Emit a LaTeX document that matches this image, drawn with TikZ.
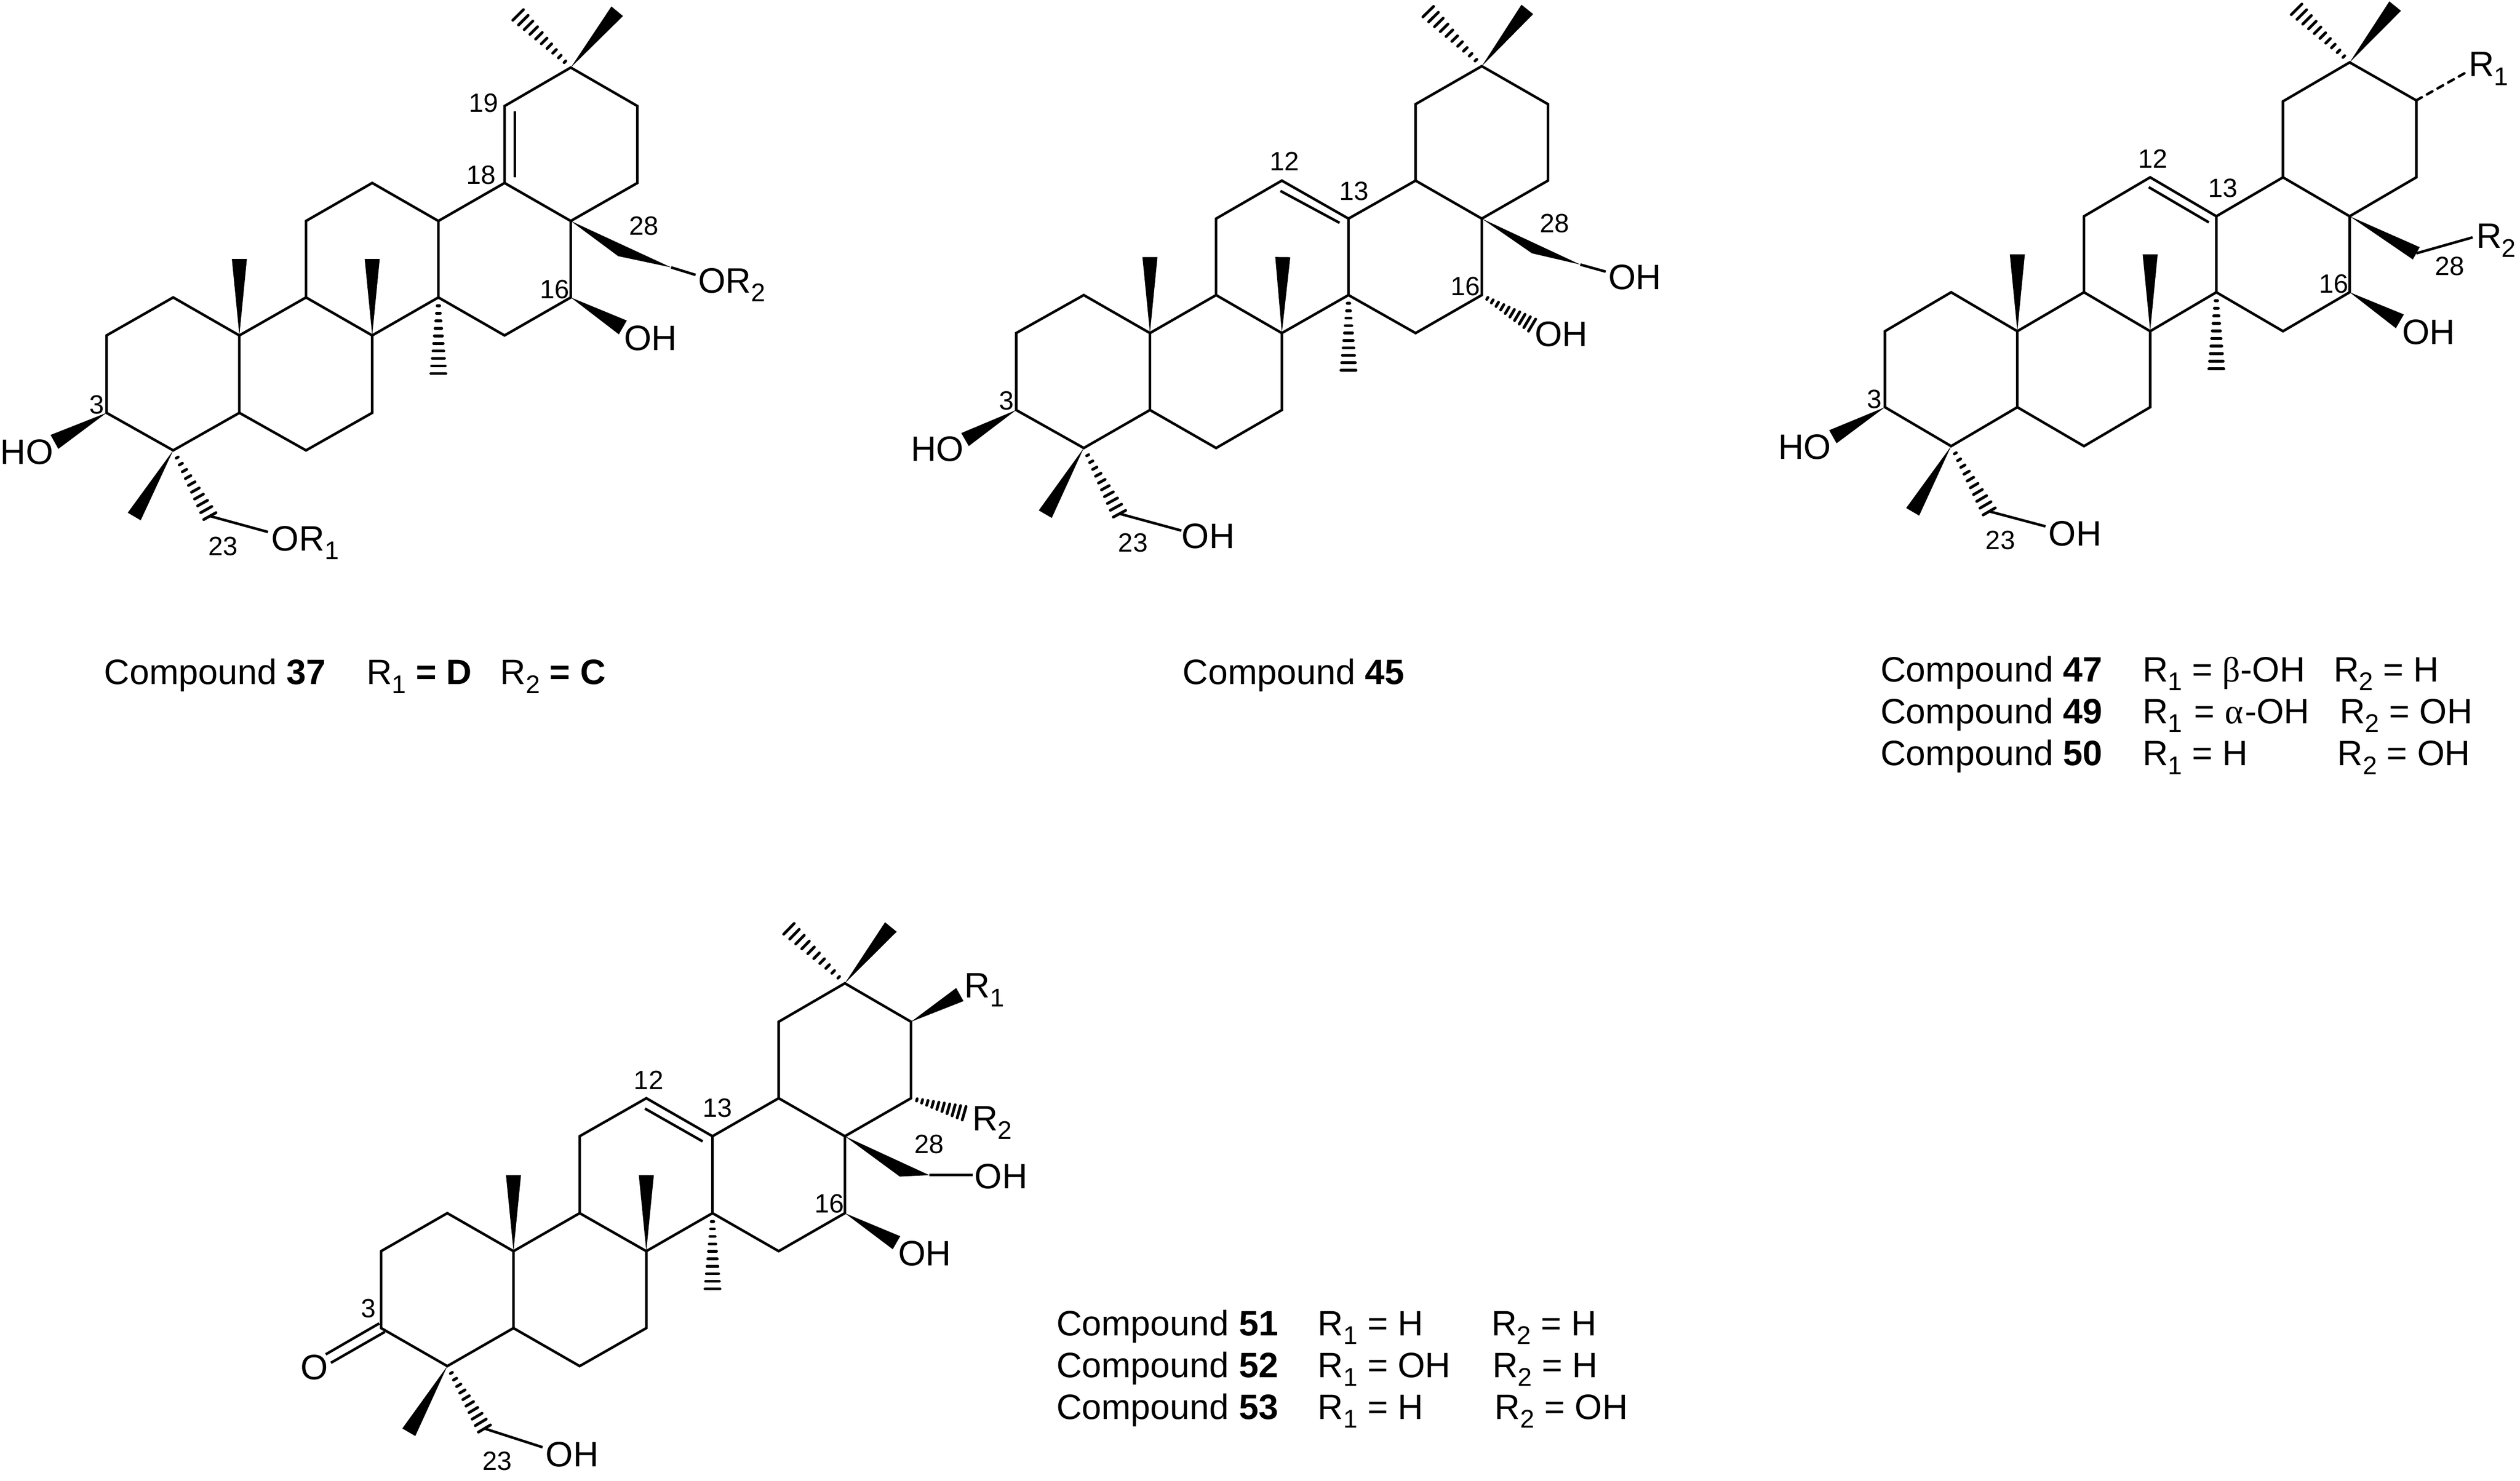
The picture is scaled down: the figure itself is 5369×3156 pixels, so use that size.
\documentclass[tikz,border=0pt]{standalone}
\usepackage{fontspec}
\setmainfont{Liberation Sans}
\newfontfamily\greekfont{Liberation Serif}
\usetikzlibrary{calc}
\newcommand{\atomfont}{\fontsize{21.4}{25}\selectfont}
\newcommand{\numfont}{\fontsize{16}{18}\selectfont}
\newcommand{\rsub}[1]{\raisebox{-0.25em}{\fontsize{15.5}{18}\selectfont #1}}
\tikzset{
  bondline/.style={line width=1.55pt},
  hashline/.style={line width=1.7pt, line cap=round},
  atomlabel/.style={anchor=base west, inner sep=0pt, font=\atomfont},
  numlabel/.style={inner sep=0pt, font=\numfont}
}
% solid wedge and hashed wedge, narrow end first, half width in pixels
\newcommand{\wedgebond}[3]{\fill (#1) -- ($(#2)!#3*0.01cm!90:(#1)$) -- ($(#2)!#3*0.01cm!-90:(#1)$) -- cycle;}
\newcommand{\hashbond}[3]{\foreach \hpos in {0.11,0.209,...,1.01} {
  \pgfmathsetmacro{\hashw}{(\hpos*#3+1)*0.01}
  \draw[hashline] ($(#1)!\hpos!(#2)!\hashw cm!90:(#1)$) -- ($(#1)!\hpos!(#2)!\hashw cm!-90:(#1)$);}}
% the five rings and the substituents all four molecules share
\newcommand{\skeleton}[1]{
  \draw[bondline] (#1a1) -- (#1a2) -- (#1a3) -- (#1a4) -- (#1a5) -- (#1a6) -- cycle;
  \draw[bondline] (#1a3) -- (#1b1) -- (#1b2) -- (#1b3) -- (#1b4) -- (#1a4);
  \draw[bondline] (#1b1) -- (#1c1) -- (#1c2) -- (#1c3) -- (#1c4) -- (#1b2);
  \draw[bondline] (#1c3) -- (#1d1) -- (#1d2) -- (#1d3) -- (#1d4) -- (#1c4);
  \draw[bondline] (#1d1) -- (#1e1) -- (#1e2) -- (#1e3) -- (#1e4) -- (#1d2);
  \draw[bondline] (#1ia) -- (#1ib);
  \wedgebond{#1a3}{#1t10}{16}
  \wedgebond{#1b2}{#1t8}{16}
  \hashbond{#1c4}{#1t14}{15}
  \wedgebond{#1a5}{#1me4}{16}
  \hashbond{#1a5}{#1c23}{14}
  \draw[bondline] (#1c23) -- (#1o23);
  \hashbond{#1e2}{#1ha20}{15}
  \wedgebond{#1e2}{#1me20}{16}
}
\begin{document}
\begin{tikzpicture}[x=0.01cm,y=-0.01cm]
\useasboundingbox (0,0) rectangle (5369,3156);

% Compound 37
\foreach \atom/\px/\py in {a1/227/715,a2/369/634,a3/510/715,a4/510/880,a5/369/960,a6/227/880,
  b1/652/634,b2/793/715,b3/793/880,b4/652/960,c1/652/471,c2/793/390,c3/934/471,c4/934/634,
  d1/1075/390,d2/1216/471,d3/1216/634,d4/1075/715,e1/1075/226,e2/1216/144,e3/1358/226,e4/1358/390,
  t10/510/552,t8/793/552,t14/934/796,me4/286/1101,c23/447/1100,o23/571/1134,ha20/1104/32,me20/1315/24,
  ia/1097/237,ib/1097/378,oh3/116/942,oh16/1327/698,c28/1317/546,x28/1430/570,o28/1482/586}
  \coordinate (m37\atom) at (\px,\py);
\skeleton{m37}
\wedgebond{m37a6}{m37oh3}{17}
\wedgebond{m37d3}{m37oh16}{17}
\fill (m37d2) -- (m37x28) -- (m37c28) -- cycle;
\draw[bondline] (m37x28) -- (m37o28);
\node[numlabel] (m37n19) at (1030,220) {19};
\node[numlabel] (m37n18) at (1025,373) {18};
\node[numlabel] (m37n28) at (1372,481) {28};
\node[numlabel] (m37n16) at (1182,617) {16};
\node[numlabel] (m37n3) at (206,863) {3};
\node[numlabel] (m37n23) at (475,1164) {23};
\node[atomlabel] (m37lr2) at (1487,624) {OR\rsub{2}};
\node[atomlabel] (m37loh) at (1329,747) {OH};
\node[atomlabel] (m37lho) at (0,990) {HO};
\node[atomlabel] (m37lr1) at (578,1174) {OR\rsub{1}};
\node[atomlabel] (cap37) at (221,1459) {Compound \textbf{37}};
\node[atomlabel] (cap37a) at (780,1459) {R\rsub{1} \textbf{= D}};
\node[atomlabel] (cap37b) at (1065,1459) {R\rsub{2} \textbf{= C}};

% Compound 45
\foreach \atom/\px/\py in {a1/2165/710,a2/2309/629,a3/2450/710,a4/2450/874,a5/2309/955,a6/2165/874,
  b1/2591/629,b2/2731/710,b3/2731/874,b4/2591/955,c1/2591/466,c2/2731/385,c3/2873/466,c4/2873/629,
  d1/3016/385,d2/3157/466,d3/3157/629,d4/3016/710,e1/3016/222,e2/3157/141,e3/3298/222,e4/3298/385,
  t10/2450/548,t8/2733/548,t14/2873/789,me4/2227/1096,c23/2385/1095,o23/2517/1131,ha20/3043/25,me20/3254/20,
  ia/2728/407,ib/2854/475,oh3/2056/937,oh16/3264/693,c28/3264/540,x28/3367/564,o28/3421/579}
  \coordinate (m45\atom) at (\px,\py);
\skeleton{m45}
\wedgebond{m45a6}{m45oh3}{16}
\hashbond{m45d3}{m45oh16}{14}
\fill (m45d2) -- (m45x28) -- (m45c28) -- cycle;
\draw[bondline] (m45x28) -- (m45o28);
\node[numlabel] (m45n12) at (2737,344) {12};
\node[numlabel] (m45n13) at (2885,407) {13};
\node[numlabel] (m45n28) at (3312,476) {28};
\node[numlabel] (m45n16) at (3122,610) {16};
\node[numlabel] (m45n3) at (2144,854) {3};
\node[numlabel] (m45n23) at (2414,1157) {23};
\node[atomlabel] (m45loh28) at (3426,617) {OH};
\node[atomlabel] (m45loh16) at (3269,738) {OH};
\node[atomlabel] (m45lho) at (1940,983) {HO};
\node[atomlabel] (m45loh23) at (2517,1169) {OH};
\node[atomlabel] (cap45) at (2519,1459) {Compound \textbf{45}};

% Compounds 47, 49, 50
\foreach \atom/\px/\py in {a1/4016/706,a2/4157/623,a3/4298/706,a4/4298/868,a5/4157/951,a6/4016/868,
  b1/4440/623,b2/4581/706,b3/4581/868,b4/4440/951,c1/4440/461,c2/4581/378,c3/4722/461,c4/4722/623,
  d1/4864/378,d2/5006/461,d3/5006/623,d4/4864/706,e1/4864/216,e2/5006/133,e3/5148/214,e4/5148/378,
  t10/4298/542,t8/4581/542,t14/4722/786,me4/4075/1091,c23/4238/1090,o23/4358/1122,ha20/4893/20,me20/5103/13,
  ia/4578/399,ib/4706/474,oh3/3905/931,oh16/5113/685,c28/5148/540,r228/5268/506,r147/5251/156}
  \coordinate (m47\atom) at (\px,\py);
\skeleton{m47}
\wedgebond{m47a6}{m47oh3}{16}
\wedgebond{m47d3}{m47oh16}{17}
\wedgebond{m47d2}{m47c28}{15}
\draw[bondline] (m47c28) -- (m47r228);
\draw[bondline, line cap=round, dash pattern=on 3.8pt off 3.6pt] (m47e3) -- (m47r147);
\node[numlabel] (m47n12) at (4587,338) {12};
\node[numlabel] (m47n13) at (4736,401) {13};
\node[numlabel] (m47n28) at (5219,567) {28};
\node[numlabel] (m47n16) at (4972,605) {16};
\node[numlabel] (m47n3) at (3993,851) {3};
\node[numlabel] (m47n23) at (4262,1152) {23};
\node[atomlabel] (m47lr1) at (5259,163) {R\rsub{1}};
\node[atomlabel] (m47lr2) at (5275,529) {R\rsub{2}};
\node[atomlabel] (m47loh16) at (5117,734) {OH};
\node[atomlabel] (m47lho) at (3788,979) {HO};
\node[atomlabel] (m47loh23) at (4364,1163) {OH};
\node[atomlabel] (cap47) at (4006,1453) {Compound \textbf{47}};
\node[atomlabel] (cap47a) at (4564,1453) {R\rsub{1} = {\greekfont β}-OH};
\node[atomlabel] (cap47b) at (4971,1453) {R\rsub{2} = H};
\node[atomlabel] (cap49) at (4006,1542) {Compound \textbf{49}};
\node[atomlabel] (cap49a) at (4564,1542) {R\rsub{1}\hspace{1.3pt} = {\greekfont α}\hspace{1pt}-OH};
\node[atomlabel] (cap49b) at (4984,1542) {R\rsub{2} = OH};
\node[atomlabel] (cap50) at (4006,1632) {Compound \textbf{50}};
\node[atomlabel] (cap50a) at (4564,1632) {R\rsub{1} = H};
\node[atomlabel] (cap50b) at (4979,1632) {R\rsub{2} = OH};

% Compounds 51, 52, 53
\foreach \atom/\px/\py in {a1/812/2667,a2/953/2586,a3/1094/2667,a4/1094/2831,a5/953/2912,a6/812/2831,
  b1/1235/2586,b2/1377/2667,b3/1377/2831,b4/1235/2912,c1/1235/2422,c2/1377/2341,c3/1518/2422,c4/1518/2586,
  d1/1659/2341,d2/1800/2422,d3/1800/2586,d4/1659/2667,e1/1659/2178,e2/1800/2096,e3/1941/2178,e4/1941/2341,
  t10/1094/2505,t8/1377/2505,t14/1518/2747,me4/871/3053,c23/1032/3045,o23/1156/3085,ha20/1681/1980,me20/1898/1976,
  ia/1374/2363,ib/1497/2433,oa/808/2821,ob/694/2887,oc/820/2839,od/705/2905,
  oh16/1910/2649,c28/1917/2508,x28/1980/2505,o28/2072/2505,r1/2045/2120,r2/2054/2373}
  \coordinate (m51\atom) at (\px,\py);
\skeleton{m51}
\draw[bondline] (m51oa) -- (m51ob);
\draw[bondline] (m51oc) -- (m51od);
\wedgebond{m51d3}{m51oh16}{16}
\fill (m51d2) -- (m51x28) -- (m51c28) -- cycle;
\draw[bondline] (m51x28) -- (m51o28);
\wedgebond{m51e3}{m51r1}{16}
\hashbond{m51e4}{m51r2}{14}
\node[numlabel] (m51n12) at (1382,2302) {12};
\node[numlabel] (m51n13) at (1529,2362) {13};
\node[numlabel] (m51n28) at (1980,2439) {28};
\node[numlabel] (m51n16) at (1767,2566) {16};
\node[numlabel] (m51n3) at (785,2789) {3};
\node[numlabel] (m51n23) at (1059,3114) {23};
\node[atomlabel] (m51lr1) at (2054,2127) {R\rsub{1}};
\node[atomlabel] (m51lr2) at (2071,2410) {R\rsub{2}};
\node[atomlabel] (m51loh28) at (2076,2534) {OH};
\node[atomlabel] (m51loh16) at (1913,2698) {OH};
\node[atomlabel] (m51lo) at (640,2941) {O};
\node[atomlabel] (m51loh23) at (1162,3126) {OH};
\node[atomlabel] (cap51) at (2250,2847) {Compound \textbf{51}};
\node[atomlabel] (cap51a) at (2807,2847) {R\rsub{1} = H};
\node[atomlabel] (cap51b) at (3177,2847) {R\rsub{2} = H};
\node[atomlabel] (cap52) at (2250,2936) {Compound \textbf{52}};
\node[atomlabel] (cap52a) at (2807,2936) {R\rsub{1} = OH};
\node[atomlabel] (cap52b) at (3179,2936) {R\rsub{2} = H};
\node[atomlabel] (cap53) at (2250,3025) {Compound \textbf{53}};
\node[atomlabel] (cap53a) at (2807,3025) {R\rsub{1} = H};
\node[atomlabel] (cap53b) at (3184,3025) {R\rsub{2} = OH};
\end{tikzpicture}
\end{document}
